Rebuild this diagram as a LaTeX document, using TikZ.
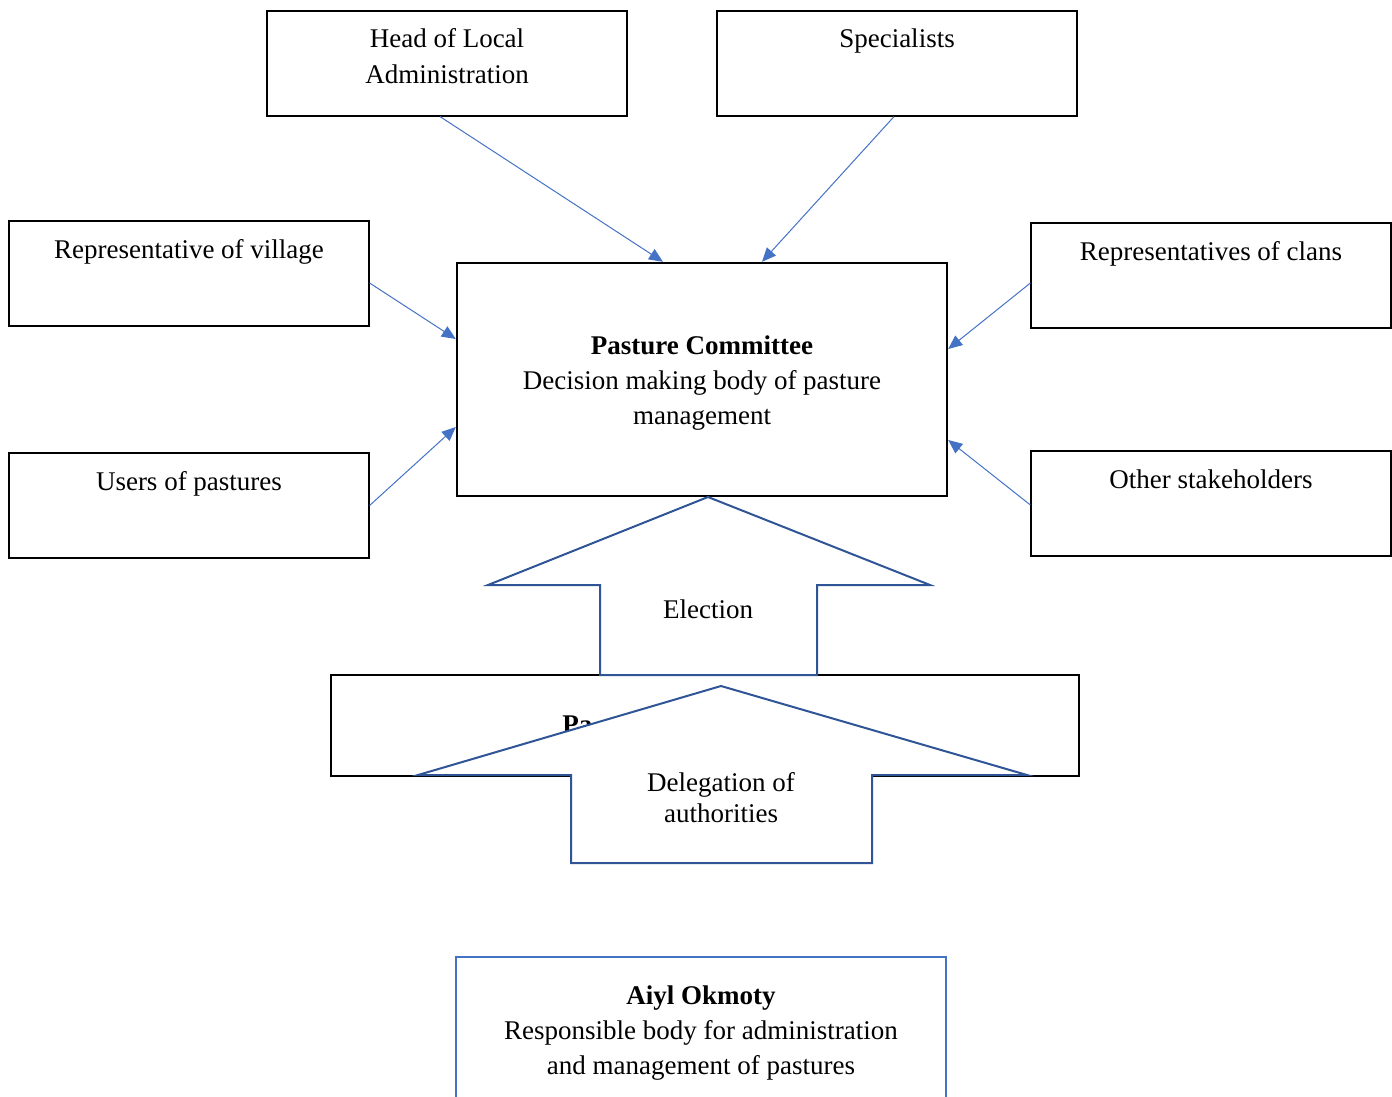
\documentclass[tikz,border=0pt]{standalone}
\usepackage{fontspec}
\setmainfont{Liberation Serif}
\usetikzlibrary{arrows.meta}
\definecolor{linkblue}{HTML}{4472C4}
\definecolor{arrowblue}{HTML}{2F5597}

\begin{document}
\begin{tikzpicture}[x=0.5pt,y=-0.5pt,
    box/.style={draw,line width=0.6pt,minimum width=180pt,minimum height=52.5pt,inner sep=0pt},
    bigbox/.style={draw,line width=1.2pt,inner sep=0pt},
    txt/.style={text width=#1,align=center,anchor=base,inner sep=0pt,font=\fontsize{13.5}{17.5}\selectfont,
        execute at begin node={\leftskip=0pt plus 1fil\rightskip=0pt plus 1fil\spaceskip=0pt\xspaceskip=0pt\relax}},
    txt/.default=175pt,
    link/.style={draw=linkblue,line width=0.5pt,-{Triangle[length=7pt,width=6pt]}},
    fatarrow/.style={draw=arrowblue,fill=white,line width=1pt,line join=miter}]

    \clip (0,0) rectangle (1392,1097);

    \node[box] (head) at (447,63.5) {};
    \node[box] (spec) at (897,63.5) {};
    \node[box] (village) at (189,273.5) {};
    \node[box] (clans) at (1211,275.5) {};
    \node[box] (users) at (189,505.5) {};
    \node[box] (other) at (1211,503.5) {};
    \node[bigbox,minimum width=245pt,minimum height=116.5pt] (committee) at (702,379.5) {};
    \node[draw=linkblue,line width=1pt,minimum width=245pt,minimum height=86.5pt] (aiyl) at (701,1043.5) {};

    \node[txt] (headtxt) at (447,48) {Head of Local\\Administration};
    \node[txt] (spectxt) at (897,48) {Specialists};
    \node[txt] (villagetxt) at (189,258) {Representative of village};
    \node[txt] (clanstxt) at (1211,260) {Representatives of clans};
    \node[txt] (userstxt) at (189,490) {Users of pastures};
    \node[txt] (othertxt) at (1211,488) {Other stakeholders};
    \node[txt=240pt] (committeetxt) at (702,354) {\textbf{Pasture Committee}\\Decision making body of pasture\\management};
    \node[txt=240pt] (aiyltxt) at (701,1004) {\textbf{Aiyl Okmoty}\\Responsible body for administration\\and management of pastures};

    \draw[link] ([xshift=-3.5pt]head.south) -- ([xshift=-19.5pt]committee.north);
    \draw[link] ([xshift=-1.5pt]spec.south) -- ([xshift=30pt]committee.north);
    \draw[link] ([yshift=-4.75pt]village.east) -- ([yshift=20.25pt]committee.west);
    \draw[link] (users.east) -- ([yshift=-23.75pt]committee.west);
    \draw[link] ([yshift=-3.75pt]clans.west) -- ([yshift=15.25pt]committee.east);
    \draw[link] ([yshift=-0.75pt]other.west) -- ([yshift=-30.25pt]committee.east);

    \node[bigbox,minimum width=374pt,minimum height=50.5pt] (pubox) at (705,725.5) {};
    \node[anchor=base west,inner sep=0pt,font=\fontsize{13.5}{17.5}\selectfont] (putxt) at (562,733) {\textbf{Pa}};

    \draw[fatarrow] (708,497) -- (930,585) -- (817,585) -- (817,675) -- (600,675) -- (600,585) -- (488,585) -- cycle;
    \node[txt] (electiontxt) at (708,618) {Election};

    \draw[fatarrow] (721,686) -- (1027,775) -- (872,775) -- (872,863) -- (571,863) -- (571,775) -- (418,775) -- cycle;
    \node[txt,font=\fontsize{13.5}{15.5}\selectfont] (delegtxt) at (721,791) {Delegation of\\authorities};

\end{tikzpicture}
\end{document}
